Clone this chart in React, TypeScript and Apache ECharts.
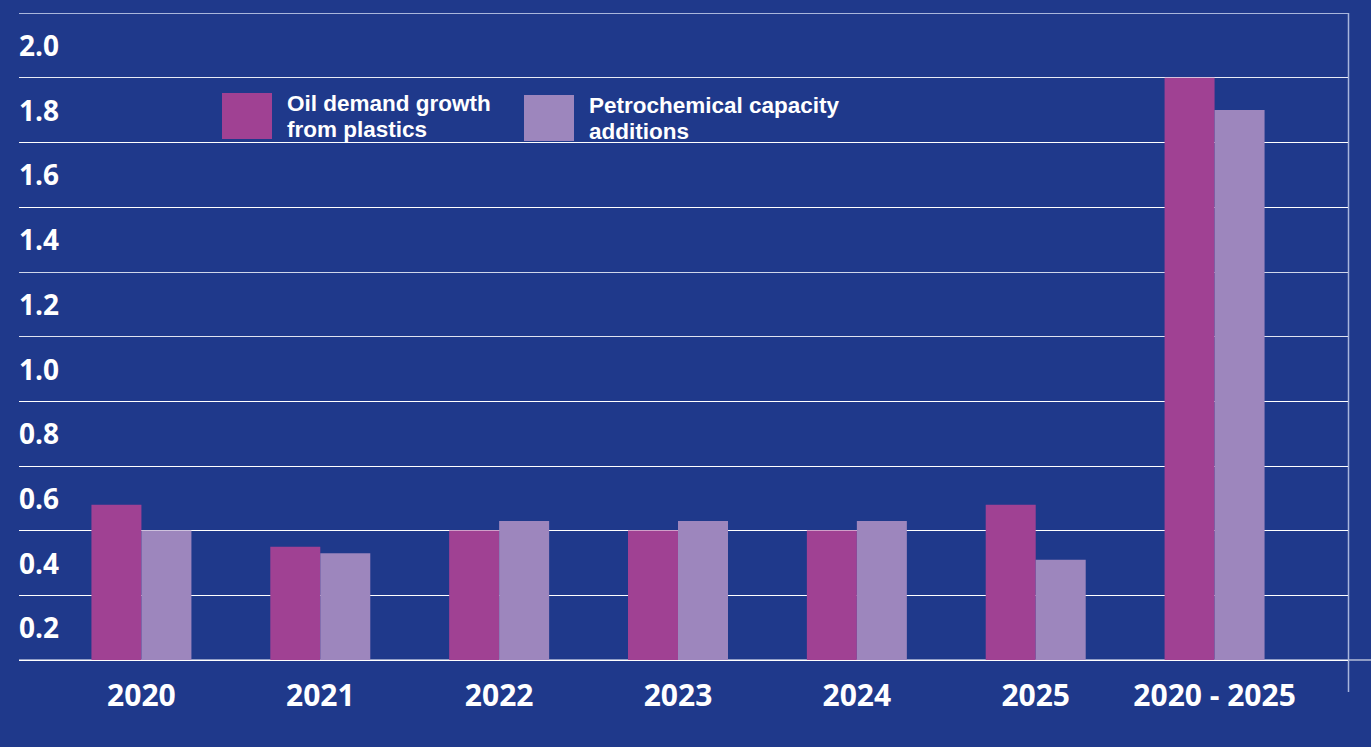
import React, { useEffect, useRef } from "react";
import * as echarts from "echarts";

const categories = ["2020", "2021", "2022", "2023", "2024", "2025", "2020 - 2025"];
const oilDemandGrowth = [0.48, 0.35, 0.4, 0.4, 0.4, 0.48, 1.8];
const petrochemCapacity = [0.4, 0.33, 0.43, 0.43, 0.43, 0.31, 1.7];
const seriesNames = ["Oil demand growth\nfrom plastics", "Petrochemical capacity\nadditions"];
const yTicks = { min: 0, max: 2, interval: 0.2 };

const BG = "#1f398b";
const OIL = "#a04193";
const PETRO = "#9d86bd";
const FONT = "'Open Sans', 'Noto Sans', sans-serif";
const LEGEND_FONT = "'Liberation Sans', Arial, sans-serif";

export default function App() {
  const ref = useRef<HTMLDivElement>(null);
  useEffect(() => {
    if (!ref.current) return;
    const chart = echarts.init(ref.current, undefined, { renderer: "svg" });
    const gridColors = [
      "#ffffff", "#ffffff", "#ffffff", "#ffffff", "#ffffff", "#dfe3f0",
      "#cfd6ea", "#ffffff", "#ffffff", "#e8ebf5", "#a9b6dc",
    ];
    const legendText = {
      color: "#ffffff",
      fontSize: 22.5,
      fontWeight: "bold" as const,
      fontFamily: LEGEND_FONT,
      lineHeight: 26,
      padding: [0, 0, 0, 10],
    };
    chart.setOption({
      animation: false,
      backgroundColor: BG,
      grid: [
        { left: 19, right: 23, top: 13, bottom: 87 },
        { left: 52, right: 67, top: 13, bottom: 87 },
      ],
      xAxis: [
        { gridIndex: 0, type: "value", min: 0, max: 1, show: false },
        {
          gridIndex: 1,
          type: "category",
          data: categories,
          axisLine: { show: false },
          axisTick: { show: false },
          axisLabel: {
            interval: 0,
            color: "#ffffff",
            fontSize: 30,
            fontWeight: "bold",
            fontFamily: FONT,
            margin: 19,
          },
        },
      ],
      yAxis: [
        {
          gridIndex: 0,
          type: "value",
          min: yTicks.min,
          max: yTicks.max,
          interval: yTicks.interval,
          axisLine: { show: false },
          axisTick: { show: false },
          splitLine: { show: true, lineStyle: { color: gridColors, width: 1.2 } },
          axisLabel: {
            inside: true,
            margin: 0,
            showMaxLabel: true,
            showMinLabel: true,
            color: "#ffffff",
            fontSize: 28,
            fontWeight: "bold",
            fontFamily: FONT,
            verticalAlign: "top",
            lineHeight: 64,
            formatter: (v: number) => (v === 0 ? "" : v.toFixed(1)),
          },
        },
        { gridIndex: 1, type: "value", min: yTicks.min, max: yTicks.max, show: false },
      ],
      legend: [
        {
          data: [seriesNames[0]],
          left: 222,
          top: 90,
          icon: "rect",
          itemWidth: 50,
          itemHeight: 46,
          padding: 0,
          textStyle: legendText,
        },
        {
          data: [seriesNames[1]],
          left: 524,
          top: 92,
          icon: "rect",
          itemWidth: 50,
          itemHeight: 46,
          padding: 0,
          textStyle: legendText,
        },
      ],
      graphic: [
        {
          type: "line",
          shape: { x1: 19, y1: 660, x2: 1371, y2: 660 },
          style: { stroke: "#ffffff", lineWidth: 1.2 },
          silent: true,
        },
        {
          type: "line",
          shape: { x1: 1348.5, y1: 13, x2: 1348.5, y2: 692 },
          style: { stroke: "#a9b6dc", lineWidth: 1.5 },
          silent: true,
        },
      ],
      series: [
        {
          name: seriesNames[0],
          type: "bar",
          xAxisIndex: 1,
          yAxisIndex: 1,
          data: oilDemandGrowth,
          barWidth: 50,
          barGap: "0%",
          itemStyle: { color: OIL },
        },
        {
          name: seriesNames[1],
          type: "bar",
          xAxisIndex: 1,
          yAxisIndex: 1,
          data: petrochemCapacity,
          barWidth: 50,
          barGap: "0%",
          itemStyle: { color: PETRO },
        },
      ],
    });
    return () => chart.dispose();
  }, []);
  return (
    <div
      ref={ref}
      style={{ position: "fixed", left: 0, top: 0, width: 1371, height: 747 }}
    />
  );
}
